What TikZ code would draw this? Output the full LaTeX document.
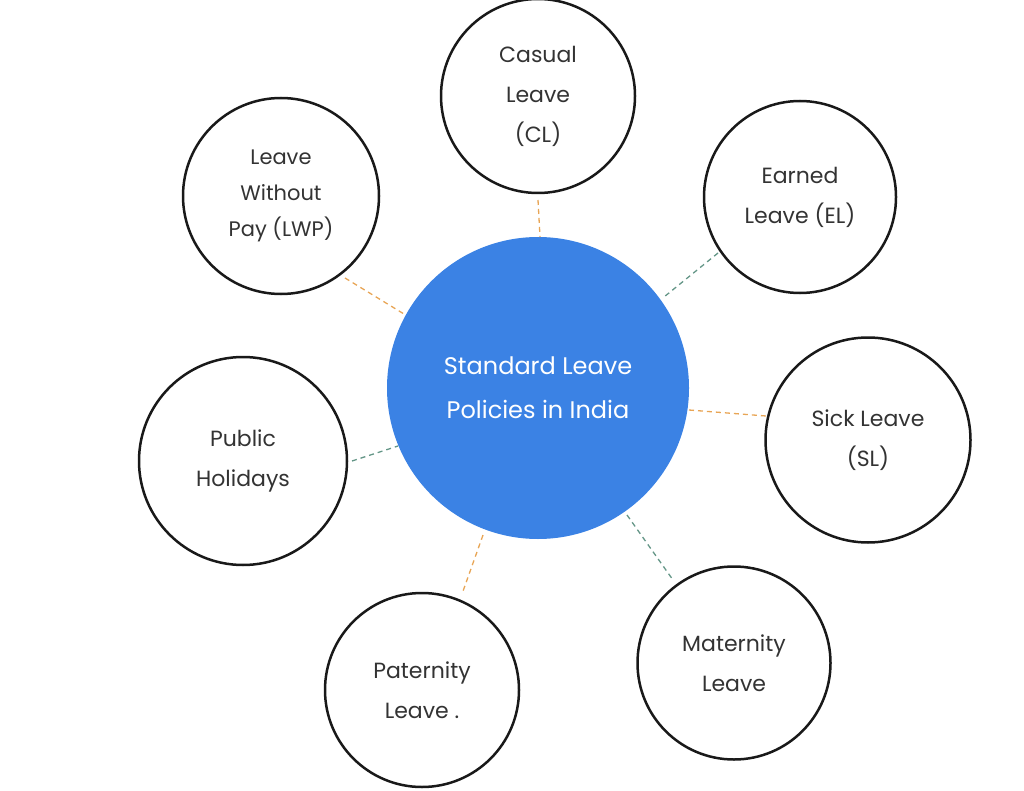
\documentclass[tikz,border=0pt]{standalone}
\usepackage{fontspec}
\setmainfont{Poppins}
\begin{document}
\begin{tikzpicture}[x=1pt,y=-1pt,
  leaf/.style={circle,draw=black!90,line width=2.5pt,align=center,text=black!80,font=\fontsize{22}{40}\selectfont},
  orange/.style={draw={rgb,255:red,232;green,165;blue,85},dashed,line width=1.3pt,dash pattern=on 5pt off 4pt},
  teal/.style={draw={rgb,255:red,100;green,150;blue,135},dashed,line width=1.3pt,dash pattern=on 5pt off 4pt}]
\definecolor{cblue}{RGB}{59,130,228}
\useasboundingbox (0,0) rectangle (1024,791);
\node[circle,fill=cblue,minimum size=302pt,inner sep=0,align=center,text=white,font=\fontsize{24}{44}\selectfont] (c) at (538,388) {Standard Leave\\Policies in India};
\node[leaf,minimum size=194pt] (cl) at (538,96) {Casual\\Leave\\(CL)};
\node[leaf,minimum size=192pt] (el) at (800,197) {Earned\\Leave (EL)};
\node[leaf,minimum size=205pt] (sl) at (868,440) {Sick Leave\\(SL)};
\node[leaf,minimum size=193pt] (ml) at (734,663) {Maternity\\Leave};
\node[leaf,minimum size=194pt] (pl) at (422,690) {Paternity\\Leave .};
\node[leaf,minimum size=208pt] (ph) at (243,461) {Public\\Holidays};
\node[leaf,minimum size=196pt,font=\fontsize{21}{36}\selectfont] (lwp) at (281,196) {Leave\\Without\\Pay (LWP)};
\coordinate (a1) at (538,200); \coordinate (a2) at (540,237);
\coordinate (b1) at (718,253); \coordinate (b2) at (664,297);
\coordinate (s1) at (689,410); \coordinate (s2) at (766,416);
\coordinate (m1) at (627,515); \coordinate (m2) at (673,580);
\coordinate (p1) at (483,535); \coordinate (p2) at (462,594);
\coordinate (h1) at (352,461); \coordinate (h2) at (398,446);
\coordinate (w1) at (345,278); \coordinate (w2) at (404,314);
\draw[orange] (a1) -- (a2);
\draw[teal] (b1) -- (b2);
\draw[orange] (s1) -- (s2);
\draw[teal] (m1) -- (m2);
\draw[orange] (p1) -- (p2);
\draw[teal] (h1) -- (h2);
\draw[orange] (w1) -- (w2);
\end{tikzpicture}
\end{document}
